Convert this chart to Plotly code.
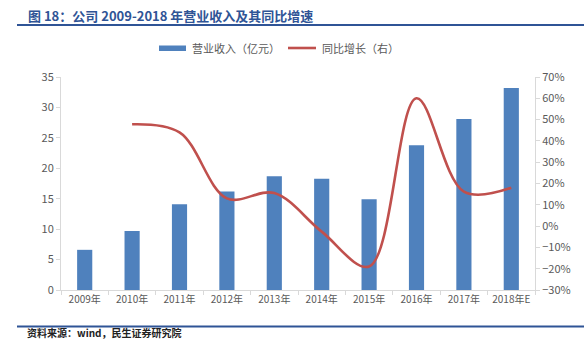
import plotly.graph_objects as go

# 营业收入（亿元）及同比增长
years = ["2009年", "2010年", "2011年", "2012年", "2013年",
         "2014年", "2015年", "2016年", "2017年", "2018年E"]
revenue = [6.6, 9.7, 14.1, 16.2, 18.7, 18.3, 14.9, 23.8, 28.1, 33.2]
growth = [None, 0.478, 0.44, 0.13, 0.155, -0.026, -0.19, 0.60, 0.162, 0.18]

title_text = "图 18：公司 2009-2018 年营业收入及其同比增速"
legend_bar = "营业收入（亿元）"
legend_line = "同比增长（右）"
source_text = "资料来源：wind，民生证券研究院"

BAR = "#4F81BD"
LINE = "#C0504D"
NAVY = "#2F5496"
GRID = "#D9D9D9"
TXT = "#595959"
FONT = "Noto Sans CJK SC"

W, H = 584, 343
L, R, T, B = 61, 49, 77, 53
PH = H - T - B
PW = W - L - R


def py(p):
    """pixel row -> paper y"""
    return (H - B - p) / PH


def px(p):
    """pixel column -> paper x"""
    return (p - L) / PW


fig = go.Figure()
fig.add_trace(go.Bar(x=years, y=revenue, name=legend_bar, marker_color=BAR,
                     marker_line_width=0, width=0.32, yaxis="y"))
fig.add_trace(go.Scatter(x=years, y=growth, name=legend_line, mode="lines",
                         line=dict(color=LINE, width=2.6, shape="spline", smoothing=1.0),
                         yaxis="y2", connectgaps=False))

shapes = [
    # rule under the title
    dict(type="line", xref="paper", yref="paper", x0=px(17), x1=px(584),
         y0=py(25), y1=py(25), line=dict(color=NAVY, width=2)),
    # rule above the source line
    dict(type="line", xref="paper", yref="paper", x0=px(17), x1=px(584),
         y0=py(326.5), y1=py(326.5), line=dict(color=NAVY, width=2)),
    # legend keys
    dict(type="rect", xref="paper", yref="paper", x0=px(159), x1=px(186),
         y0=py(51), y1=py(45.5), fillcolor=BAR, line_width=0),
    dict(type="line", xref="paper", yref="paper", x0=px(288), x1=px(316),
         y0=py(48), y1=py(48), line=dict(color=LINE, width=2.6)),
]

annotations = [
    dict(text="<b>" + title_text + "</b>", xref="paper", yref="paper",
         x=px(26), y=py(15), xanchor="left", yanchor="middle", showarrow=False,
         font=dict(family=FONT, size=13, color=NAVY)),
    dict(text=legend_bar, xref="paper", yref="paper", x=px(190), y=py(48),
         xanchor="left", yanchor="middle", showarrow=False,
         font=dict(family=FONT, size=11, color=TXT)),
    dict(text=legend_line, xref="paper", yref="paper", x=px(320), y=py(48),
         xanchor="left", yanchor="middle", showarrow=False,
         font=dict(family=FONT, size=11, color=TXT)),
    dict(text="<b>" + source_text + "</b>", xref="paper", yref="paper",
         x=px(25), y=py(342), xanchor="left", yanchor="bottom", showarrow=False,
         font=dict(family=FONT, size=10, color="#222222")),
]

fig.update_layout(
    width=W, height=H,
    margin=dict(l=L, r=R, t=T, b=B, pad=0),
    paper_bgcolor="white", plot_bgcolor="white",
    showlegend=False,
    font=dict(family=FONT, size=11, color=TXT),
    bargap=0.68,
    xaxis=dict(type="category", showline=True, linecolor=GRID, linewidth=1,
               ticks="outside", tickson="boundaries", ticklen=4, tickcolor=GRID,
               showgrid=False, tickangle=0, automargin=False,
               tickfont=dict(size=10, color=TXT)),
    yaxis=dict(range=[0, 35], dtick=5, showline=True, linecolor=GRID, linewidth=1,
               ticks="outside", ticklen=4, tickcolor=GRID, showgrid=False,
               zeroline=False, tickfont=dict(size=11, color=TXT)),
    yaxis2=dict(range=[-0.3, 0.7], dtick=0.1, tickformat=".0%", overlaying="y",
                side="right", showline=True, linecolor=GRID, linewidth=1,
                ticks="outside", ticklen=4, tickcolor=GRID, showgrid=False,
                zeroline=False, tickfont=dict(size=11, color=TXT)),
    shapes=shapes,
    annotations=annotations,
)

fig.write_html("out.html")
